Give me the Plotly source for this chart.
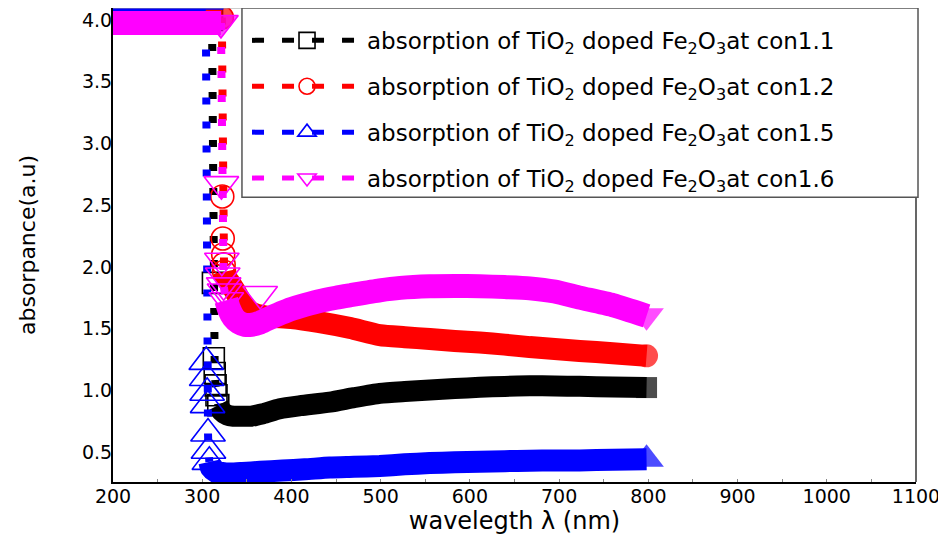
import plotly.graph_objects as go

# ---------------- data ----------------
# wavelength (nm) and absorbance (a.u.) for each concentration
bk_wl = [200, 240, 280, 311, 312, 313, 314, 315, 316, 318, 322, 328, 335, 345, 355, 368, 387,
         410, 443, 470, 499, 527, 555, 583, 611, 639, 667, 695, 723, 760, 798]
bk_ab = [4.00, 4.00, 4.00, 4.00, 1.87, 1.26, 1.14, 1.04, 0.96, 0.88, 0.83, 0.80, 0.79, 0.79, 0.79,
         0.81, 0.85, 0.875, 0.904, 0.94, 0.975, 0.99, 1.002, 1.014, 1.024, 1.031, 1.036, 1.035,
         1.032, 1.027, 1.022]

rd_wl = [200, 240, 280, 322, 322.5, 323, 323.5, 324, 324.5, 326, 330, 337, 345, 355, 370, 400,
         430, 466, 499, 527, 555, 583, 611, 639, 667, 695, 723, 760, 798]
rd_ab = [4.02, 4.02, 4.02, 4.02, 2.57, 2.23, 2.10, 2.02, 1.96, 1.92, 1.88, 1.80, 1.70, 1.63, 1.60,
         1.585, 1.553, 1.504, 1.447, 1.43, 1.415, 1.40, 1.387, 1.37, 1.35, 1.335, 1.319, 1.30, 1.279]

bl_wl = [200, 240, 280, 304, 304.5, 305, 305.5, 306, 306.5, 307, 308, 310, 315, 322, 331, 345,
         365, 390, 415, 443, 470, 499, 527, 555, 583, 611, 639, 667, 695, 723, 760, 798]
bl_ab = [4.15, 4.15, 4.15, 4.15, 1.23, 1.10, 0.98, 0.88, 0.65, 0.51, 0.42, 0.37, 0.34, 0.33, 0.325,
         0.33, 0.34, 0.35, 0.36, 0.374, 0.38, 0.387, 0.40, 0.41, 0.417, 0.421, 0.426, 0.43, 0.432,
         0.432, 0.437, 0.441]

mg_wl = [200, 240, 280, 321, 321.5, 322, 323, 324, 325, 327, 330, 335, 341, 348, 355, 365, 380,
         395, 410, 430, 450, 466, 499, 522, 555, 583, 611, 639, 667, 695, 723, 760, 798]
mg_ab = [3.975, 3.975, 3.975, 3.975, 2.67, 2.05, 1.93, 1.85, 1.80, 1.73, 1.66, 1.59, 1.55, 1.53, 1.53,
         1.55, 1.60, 1.645, 1.68, 1.72, 1.75, 1.77, 1.81, 1.83, 1.843, 1.845, 1.843, 1.836, 1.826,
         1.80, 1.751, 1.69, 1.603]

mg_extra_wl = [365]
mg_extra_ab = [1.78]

labels = [
    "absorption of TiO<sub>2</sub> doped Fe<sub>2</sub>O<sub>3</sub>at con1.1",
    "absorption of TiO<sub>2</sub> doped Fe<sub>2</sub>O<sub>3</sub>at con1.2",
    "absorption of TiO<sub>2</sub> doped Fe<sub>2</sub>O<sub>3</sub>at con1.5",
    "absorption of TiO<sub>2</sub> doped Fe<sub>2</sub>O<sub>3</sub>at con1.6",
]

x_ticks = [200, 300, 400, 500, 600, 700, 800, 900, 1000, 1100]
y_ticks = [0.5, 1.0, 1.5, 2.0, 2.5, 3.0, 3.5, 4.0]

# ---------------- styling ----------------
styles = [
    dict(wl=bk_wl, ab=bk_ab, color="#000000", sym="square", msize=21, bw=21, top_end=3, band_start=9),
    dict(wl=rd_wl, ab=rd_ab, color="#ff0000", sym="circle", msize=23, bw=22, top_end=3, band_start=8),
    dict(wl=bl_wl, ab=bl_ab, color="#0000ff", sym="triangle-up", msize=30, bw=22, top_end=3, band_start=10),
    dict(wl=mg_wl, ab=mg_ab, color="#ff00ff", sym="triangle-down", msize=30, bw=24, top_end=3, band_start=9),
]

FONT = "DejaVu Sans"
fig = go.Figure()

for i, s in enumerate(styles):
    wl, ab, c = s["wl"], s["ab"], s["color"]
    te, bs = s["top_end"], s["band_start"]
    grp = "g%d" % i
    # plateau (saturated region)
    pw, pa = wl[:te + 1], ab[:te + 1]
    fig.add_trace(go.Scatter(
        x=pw, y=pa, mode="lines+markers", showlegend=False, legendgroup=grp, hoverinfo="skip",
        line=dict(color=c, width=s["bw"]),
        marker=dict(symbol=s["sym"], color=c, size=[0] * (len(pw) - 1) + [s["msize"]],
                    line=dict(width=0)),
    ))
    # dense band
    bw_, ba_ = wl[bs:], ab[bs:]
    fig.add_trace(go.Scatter(
        x=bw_, y=ba_, mode="lines+markers", showlegend=False, legendgroup=grp, hoverinfo="skip",
        line=dict(color=c, width=s["bw"], shape="spline", smoothing=0.6),
        marker=dict(symbol=s["sym"], color=c, size=[0] * (len(bw_) - 1) + [s["msize"]],
                    line=dict(width=0)),
    ))
    # steep drop with dashed line and open markers
    fig.add_trace(go.Scatter(
        x=wl[te:bs + 1], y=ab[te:bs + 1], mode="lines+markers", showlegend=False, legendgroup=grp,
        line=dict(color=c, width=8, dash="7px,17px"),
        marker=dict(symbol=s["sym"] + "-open", color=c, size=s["msize"], line=dict(width=1.6, color=c)),
    ))
    if i == 3:
        fig.add_trace(go.Scatter(
            x=mg_extra_wl, y=mg_extra_ab, mode="markers", showlegend=False, legendgroup=grp,
            marker=dict(symbol="triangle-down-open", color=c, size=s["msize"], line=dict(width=1.6, color=c)),
        ))
    # legend entry
    fig.add_trace(go.Scatter(
        x=[None], y=[None], mode="lines+markers", name=labels[i], legendgroup=grp,
        line=dict(color=c, width=5, dash="12px,18px"),
        marker=dict(symbol=s["sym"] + "-open", color=c, size=s["msize"], line=dict(width=1.6, color=c)),
    ))

# page body has an 8px margin, so the figure is 8px smaller than the window
fig.update_layout(
    width=938, height=535,
    margin=dict(l=105, r=30, t=0, b=61),
    paper_bgcolor="white", plot_bgcolor="white",
    font=dict(family=FONT, color="black"),
    showlegend=True,
    legend=dict(
        x=0.1669, y=0.977, xanchor="left", yanchor="top",
        bgcolor="rgba(0,0,0,0)", borderwidth=0,
        font=dict(family=FONT, size=23, color="black"),
        itemwidth=110, traceorder="grouped", tracegroupgap=13,
    ),
    xaxis=dict(
        range=[200, 1100], tickvals=x_ticks, ticktext=[str(v) for v in x_ticks],
        showgrid=False, zeroline=False, showline=True, linecolor="black", linewidth=2,
        ticks="inside", ticklen=3, tickcolor="#888888",
        minor=dict(ticks="inside", ticklen=3, tickcolor="#888888", dtick=50),
        tickfont=dict(family=FONT, size=19, color="black"),
        title=dict(text="wavelegth λ (nm)", font=dict(family=FONT, size=24, color="black"), standoff=6),
    ),
    yaxis=dict(
        range=[0.257, 4.097], tickvals=y_ticks, ticktext=["%.1f" % v for v in y_ticks],
        showgrid=False, zeroline=False, showline=True, linecolor="black", linewidth=2,
        ticks="", tickfont=dict(family=FONT, size=19, color="black"),
        title=dict(text="absorpance(a.u)", font=dict(family=FONT, size=22, color="black"), standoff=40),
    ),
    shapes=[
        dict(type="line", xref="paper", yref="paper", x0=0, x1=1, y0=1, y1=1,
             line=dict(color="#999999", width=1)),
        dict(type="line", xref="paper", yref="paper", x0=1, x1=1, y0=0, y1=1,
             line=dict(color="black", width=1.2)),
        dict(type="rect", xref="paper", yref="paper", x0=0.1606, x1=1.0025, y0=0.601, y1=1.0,
             fillcolor="white", line=dict(color="#555555", width=1.5), layer="above"),
    ],
)

try:
    fig.update_xaxes(ticklabelstandoff=-4)
    fig.update_yaxes(ticklabelstandoff=-5)
except Exception:
    pass

fig.write_html("out.html")
